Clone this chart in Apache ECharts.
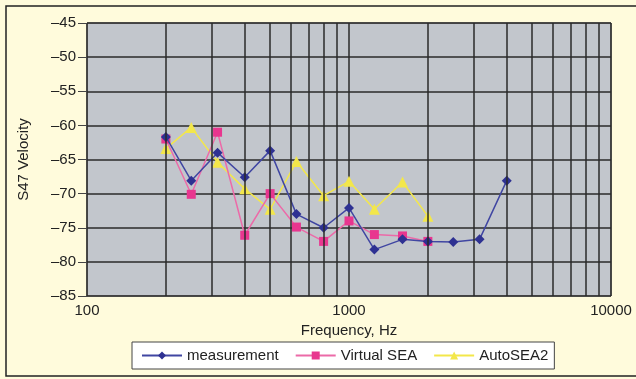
<!DOCTYPE html>
<html><head><meta charset="utf-8">
<script src="https://cdn.jsdelivr.net/npm/echarts@6/dist/echarts.min.js"></script>
<style>html,body{margin:0;padding:0;background:#fff;}#c{width:636px;height:379px;}</style>
</head><body><div id="c"></div>
<script>
const freqs = [200, 250, 315, 400, 500, 630, 800, 1000, 1250, 1600, 2000, 2500, 3150, 4000];
const measurement = [-61.7, -68.1, -64, -67.6, -63.7, -73, -75, -72.1, -78.2, -76.7, -77, -77.1, -76.7, -68.1];
const virtualSEA = [-62, -70.1, -61, -76.1, -70, -74.9, -77, -74, -76, -76.2, -77];
const autoSEA2 = [-63.4, -60.3, -65.4, -69.3, -72.3, -65.3, -70.3, -68.2, -72.3, -68.3, -73.3];
const minorGrid = [200, 300, 400, 500, 600, 700, 800, 900, 2000, 3000, 4000, 5000, 6000, 7000, 8000, 9000];
const yTicks = [-85, -80, -75, -70, -65, -60, -55, -50, -45];

const pair = (vals) => vals.map((v, i) => [freqs[i], v]);
const font = 'Liberation Sans, Arial, sans-serif';
const chart = echarts.init(document.getElementById('c'));
chart.setOption({
  backgroundColor: '#fffbdc',
  animation: false,
  graphic: [{type: 'rect', shape: {x: 6, y: 6, width: 640, height: 370}, style: {fill: 'none', stroke: '#222', lineWidth: 1.5}, z: 100}],
  grid: {left: 87, top: 23, right: 25, bottom: 83, show: true, backgroundColor: '#c2c6cc', borderColor: '#555', borderWidth: 1},
  xAxis: {
    type: 'log', logBase: 10, min: 100, max: 10000,
    name: 'Frequency, Hz', nameLocation: 'middle', nameGap: 26,
    nameTextStyle: {fontFamily: font, fontSize: 15, color: '#222'},
    axisLine: {show: false}, axisTick: {show: false},
    axisLabel: {fontFamily: font, fontSize: 15, color: '#222', margin: 7, formatter: (v) => String(v)},
    splitLine: {show: true, lineStyle: {color: '#2a2a2a', width: 1.5}}
  },
  yAxis: {
    type: 'value', min: -85, max: -45, interval: 5,
    name: 'S47 Velocity', nameLocation: 'middle', nameGap: 56,
    nameTextStyle: {fontFamily: font, fontSize: 15, color: '#222'},
    axisLine: {show: false},
    axisTick: {show: true, length: 9, lineStyle: {color: '#444', width: 1}},
    axisLabel: {fontFamily: font, fontSize: 15, color: '#222', margin: 11,
      formatter: (v) => yTicks.includes(v) ? '\u2013' + Math.abs(v) : ''},
    splitLine: {show: true, lineStyle: {color: '#2a2a2a', width: 1.5}}
  },
  legend: {
    bottom: 10, left: 132, itemGap: 16, itemWidth: 40, itemHeight: 10,
    backgroundColor: '#ffffff', borderColor: '#444', borderWidth: 1, padding: [6, 6, 6, 9],
    textStyle: {fontFamily: font, fontSize: 15, color: '#222'},
    data: ['measurement', 'Virtual SEA', 'AutoSEA2']
  },
  series: [
    {name: 'grid', type: 'line', data: [], silent: true,
     markLine: {silent: true, symbol: 'none', label: {show: false},
       lineStyle: {color: '#2a2a2a', width: 1.5, type: 'solid'},
       data: minorGrid.map(f => ({xAxis: f}))}},
    {name: 'measurement', type: 'line', data: pair(measurement), symbol: 'diamond', symbolSize: 10,
     itemStyle: {color: '#2e3192'}, lineStyle: {color: '#4046a2', width: 1.5}, z: 4},
    {name: 'Virtual SEA', type: 'line', data: pair(virtualSEA), symbol: 'rect', symbolSize: 9,
     itemStyle: {color: '#e8368f'}, lineStyle: {color: '#ec6aa8', width: 1.5}, z: 3},
    {name: 'AutoSEA2', type: 'line', data: pair(autoSEA2), symbol: 'triangle', symbolSize: 11,
     itemStyle: {color: '#f3e74a'}, lineStyle: {color: '#f3e74a', width: 1.5}, z: 2}
  ]
});
</script></body></html>
